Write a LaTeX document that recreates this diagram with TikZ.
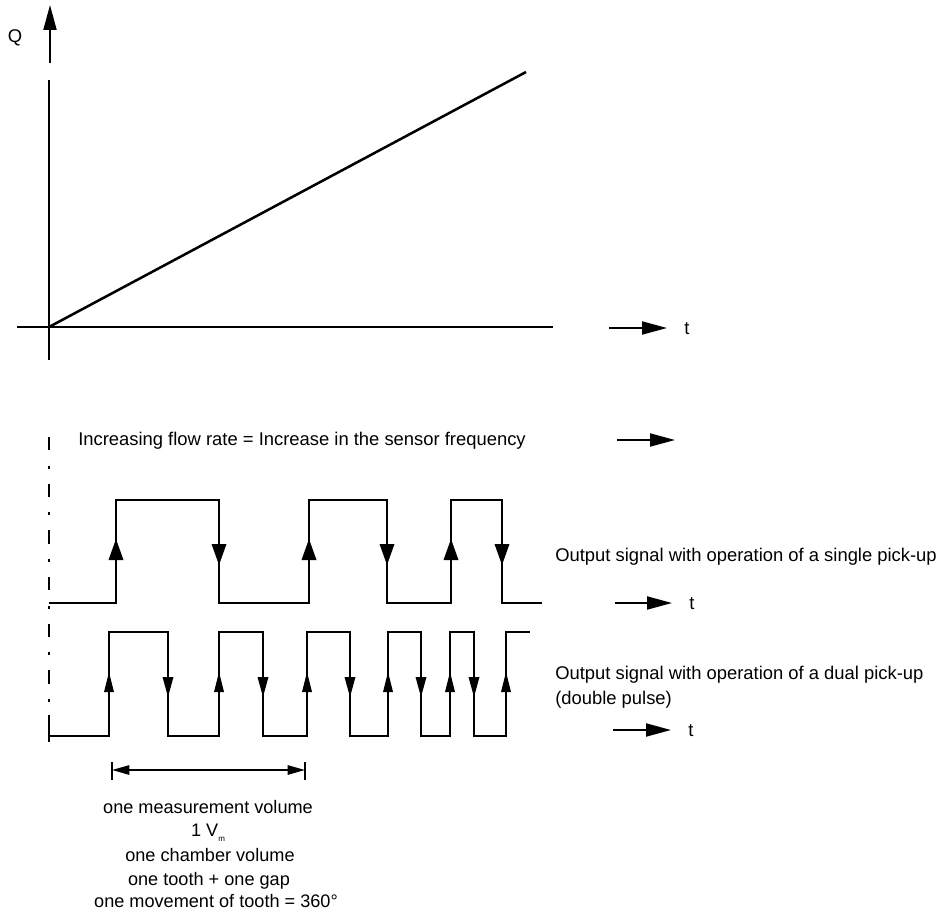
\documentclass[tikz,border=0pt]{standalone}
\usepackage{fontspec}
\setmainfont{Liberation Sans}
\usetikzlibrary{arrows.meta}
\newcommand{\myup}[4]{\fill (#1,#2) -- ({#1-#4},{#2+#3}) -- ({#1+#4},{#2+#3}) -- cycle;}
\newcommand{\mydown}[4]{\fill (#1,#2) -- ({#1-#4},{#2-#3}) -- ({#1+#4},{#2-#3}) -- cycle;}
\begin{document}
\begin{tikzpicture}[x=0.75pt,y=-0.75pt,
  axis/.style={line width=1.9pt},
  wave/.style={line width=1.9pt, line join=miter},
  tarrow/.style={line width=1.5pt,-{Triangle[length=18.75pt,width=9.75pt]}},
  marrow/.style={line width=1.3pt,{Triangle[length=13pt,width=7pt]}-{Triangle[length=13pt,width=7pt]}},
  lbl/.style={inner sep=0pt, font=\fontsize{13.8}{16}\selectfont},
  blbl/.style={inner sep=0pt, font=\fontsize{13.6}{16}\selectfont, anchor=base},
]
\useasboundingbox (0,0) rectangle (943,917);

% ---- top graph ----
\node[lbl] (Q) at (15,38) {Q};
\coordinate (O) at (49,327);
\coordinate (ytop) at (49,80);
\coordinate (ybot) at (49,360);
\coordinate (xl) at (17,327);
\coordinate (xr) at (553,327);
\coordinate (lend) at (526,72);
\coordinate (qa0) at (50,63);
\coordinate (qa1) at (50,5);
\draw[axis] (ytop) -- (ybot);
\draw[axis] (xl) -- (xr);
\draw[axis] (O) -- (lend);
\draw[tarrow] (qa0) -- (qa1);
\coordinate (ta0) at (609,328);
\coordinate (ta1) at (667,328);
\draw[tarrow] (ta0) -- (ta1);
\node[lbl, anchor=base] (t1) at (687,334) {t};

% ---- flow rate text ----
\node[lbl, anchor=base west] (inc) at (78,445) {Increasing flow rate = Increase in the sensor frequency};
\coordinate (ia0) at (617,440);
\coordinate (ia1) at (675,440);
\draw[tarrow] (ia0) -- (ia1);

% ---- dash-dot reference line ----
\draw[line width=1.9pt, dash pattern=on 10pt off 11.5pt on 2.2pt off 11.3pt] (49,437) -- (49,715);
\draw[line width=1.9pt] (49,715) -- (49,742);

% ---- single pick-up ----
\draw[wave] (49,603) -- (116,603) -- (116,500) -- (219,500) -- (219,603) -- (309,603) -- (309,500)
  -- (387,500) -- (387,603) -- (451,603) -- (451,500) -- (502,500) -- (502,603) -- (542,603);
\myup{116}{539}{21}{7.5}
\myup{309}{539}{21}{7.5}
\myup{451}{539}{21}{7.5}
\mydown{219}{565}{21}{7.5}
\mydown{387}{565}{21}{7.5}
\mydown{502}{565}{21}{7.5}
\node[lbl, anchor=base west] (single) at (555,561) {Output signal with operation of a single pick-up};
\coordinate (sa0) at (615,603);
\coordinate (sa1) at (672,603);
\draw[tarrow] (sa0) -- (sa1);
\node[lbl, anchor=base] (t2) at (692,609) {t};

% ---- dual pick-up ----
\draw[wave] (49,736) -- (109,736) -- (109,632) -- (168,632) -- (168,736) -- (219,736) -- (219,632)
  -- (263,632) -- (263,736) -- (307,736) -- (307,632) -- (350,632) -- (350,736) -- (388,736)
  -- (388,632) -- (421,632) -- (421,736) -- (450,736) -- (450,632) -- (474,632) -- (474,736)
  -- (506,736) -- (506,632) -- (530,632);
\foreach \xx in {109,219,307,388,450,506} {\myup{\xx}{672}{20}{5}}
\foreach \xx in {168,263,350,421,474} {\mydown{\xx}{697}{20}{5.5}}
\node[lbl, anchor=base west] (dual) at (555,679) {Output signal with operation of a dual pick-up};
\node[lbl, anchor=base west] (dp) at (555,704) {(double pulse)};
\coordinate (da0) at (613,730);
\coordinate (da1) at (671,730);
\draw[tarrow] (da0) -- (da1);
\node[lbl, anchor=base] (t3) at (691,736) {t};

% ---- measurement volume ----
\coordinate (ml) at (112,770);
\coordinate (mr) at (305,770);
\draw[line width=0.9pt] (112,762) -- (112,780);
\draw[line width=0.9pt] (305,762) -- (305,780);
\draw[marrow] (ml) -- (mr);
\node[blbl] (b1) at (208,813) {one measurement volume};
\node[blbl] (b2) at (208,836) {1 V\raisebox{-0.55ex}{\fontsize{6}{7}\selectfont m}};
\node[blbl] (b3) at (210,861) {one chamber volume};
\node[blbl] (b4) at (209,885) {one tooth + one gap};
\node[blbl] (b5) at (216,907) {one movement of tooth = 360°};
\end{tikzpicture}
\end{document}
